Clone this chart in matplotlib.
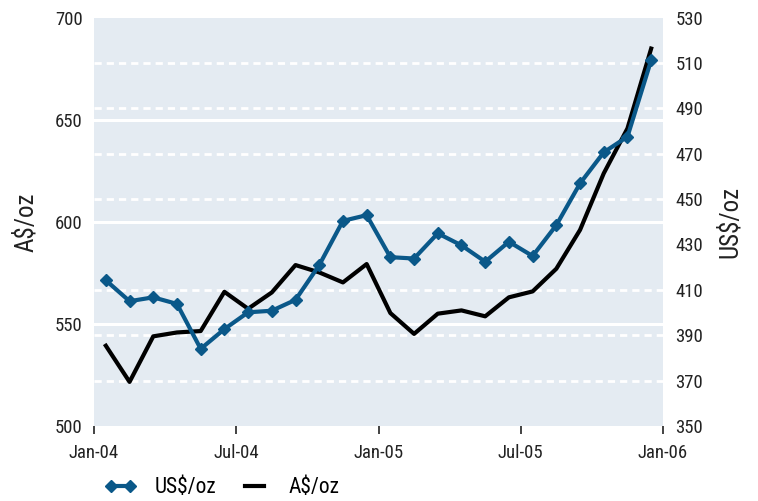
import matplotlib
matplotlib.use("Agg")
import matplotlib.pyplot as plt
from matplotlib import font_manager
from matplotlib.transforms import blended_transform_factory

# ---- data ----
months = ["Jan-04", "Feb-04", "Mar-04", "Apr-04", "May-04", "Jun-04", "Jul-04", "Aug-04",
          "Sep-04", "Oct-04", "Nov-04", "Dec-04", "Jan-05", "Feb-05", "Mar-05", "Apr-05",
          "May-05", "Jun-05", "Jul-05", "Aug-05", "Sep-05", "Oct-05", "Nov-05", "Dec-05"]
us_oz = [414.2, 405.0, 406.7, 403.8, 384.0, 392.7, 400.1, 400.8, 405.6, 420.9, 440.4, 442.9,
         424.4, 423.8, 434.9, 429.6, 422.4, 431.2, 424.9, 438.5, 456.9, 470.6, 477.5, 511.2]
a_oz = [539.3, 521.6, 543.9, 545.8, 546.5, 565.7, 557.4, 565.4, 578.8, 575.2, 570.3, 579.3,
        555.3, 545.1, 555.0, 556.6, 553.7, 563.0, 565.9, 577.0, 596.0, 623.7, 645.7, 684.8]
x_tick_labels = ["Jan-04", "Jul-04", "Jan-05", "Jul-05", "Jan-06"]
left_ticks = [500, 550, 600, 650, 700]
right_ticks = [350, 370, 390, 410, 430, 450, 470, 490, 510, 530]
us_grid = [370, 390, 410, 450, 470, 490, 510]

avail = {f.name for f in font_manager.fontManager.ttflist}
fam = "DejaVu Sans"
for cand in ["Roboto Condensed", "Liberation Sans Narrow", "Open Sans Condensed", "Roboto"]:
    if cand in avail:
        fam = cand
        break
plt.rcParams["font.family"] = [fam, "DejaVu Sans"]

BLUE = "#0a5889"
BG = "#e4ebf2"
TXT = "#222222"
FS = 13.5

fig = plt.figure(figsize=(7.58, 5.01), dpi=100)
ax = fig.add_axes([0.124, 0.1497, 0.7507, 0.8153])
ax.set_facecolor(BG)
ax2 = ax.twinx()

xs = [i + 0.5 for i in range(len(months))]

ax.set_ylim(500, 700)
ax2.set_ylim(350, 530)
ax.set_xlim(0, 24)

for v in left_ticks[1:-1]:
    ax.axhline(v, color="white", lw=2.2, zorder=1)
tr = blended_transform_factory(ax.transAxes, ax2.transData)
for v in us_grid:
    ax.plot([0, 1], [v, v], transform=tr, color="white", lw=2, ls=(0, (2.6, 1.8)), zorder=1)

la, = ax.plot(xs, a_oz, color="black", lw=3, zorder=3, label="A$/oz")
lu, = ax2.plot(xs, us_oz, color=BLUE, lw=3, marker="D", ms=6.5, zorder=4, label="US$/oz")

for a in (ax, ax2):
    for s in a.spines.values():
        s.set_visible(False)

ax.set_xticks([0, 6, 12, 18, 24])
ax.set_xticklabels(x_tick_labels, fontsize=FS, color=TXT)
ax.tick_params(axis="x", length=6, width=1.2, color=TXT, pad=7)
ax.set_yticks(left_ticks)
ax.set_yticklabels([str(v) for v in left_ticks], fontsize=FS, color=TXT)
ax.tick_params(axis="y", length=0, pad=8)
ax2.set_yticks(right_ticks)
ax2.set_yticklabels([str(v) for v in right_ticks], fontsize=FS, color=TXT)
ax2.tick_params(axis="y", length=0, pad=9)

ax.set_ylabel("A$/oz", fontsize=18, color=TXT, labelpad=12)
ax2.set_ylabel("US$/oz", fontsize=18, color=TXT, labelpad=10)

fig.legend(handles=[lu, la], loc="center left", bbox_to_anchor=(0.118, 0.026),
           ncol=2, frameon=False, fontsize=15.5, numpoints=2, handlelength=1.5,
           columnspacing=1.0, handletextpad=0.85, borderpad=0.2)

fig.savefig("out.png", dpi=100)
